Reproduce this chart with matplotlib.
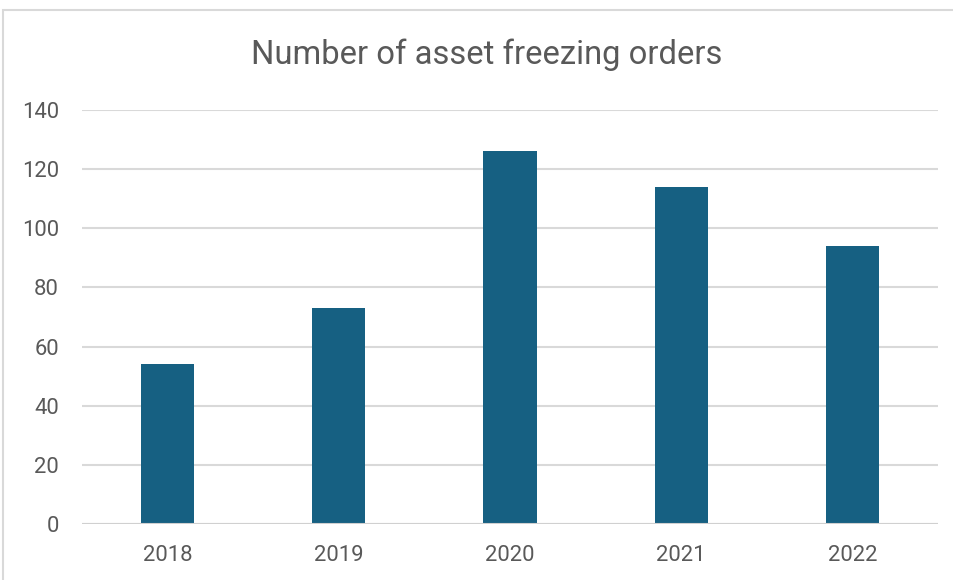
import matplotlib
matplotlib.use("Agg")
import matplotlib.pyplot as plt
from matplotlib.patches import Rectangle

years = ["2018", "2019", "2020", "2021", "2022"]
orders = [54, 73, 126, 114, 94]
y_ticks = [0, 20, 40, 60, 80, 100, 120, 140]

text_color = "#595959"
bar_color = "#166082"
grid_color = "#d9d9d9"

plt.rcParams["font.family"] = ["Roboto", "DejaVu Sans"]

fig = plt.figure(figsize=(9.54, 5.8), dpi=100)
W, H = 954, 580

# outer chart frame (runs off the right and bottom edges)
fig.patches.append(Rectangle((3 / W, -0.1), 1.2, 1 - 10 / H + 0.1,
                             transform=fig.transFigure, fill=False,
                             edgecolor="#d9d9d9", linewidth=1.5))

ax = fig.add_axes([82 / W, 1 - 524 / H, (938 - 82) / W, (524 - 110) / H])
x = range(len(years))
ax.bar(x, orders, width=0.31, color=bar_color, zorder=3)

ax.set_xlim(-0.5, len(years) - 0.5)
ax.set_ylim(0, 140)
ax.set_yticks(y_ticks)
ax.set_xticks(list(x))
ax.set_xticklabels(years)
ax.grid(axis="y", color=grid_color, linewidth=1.5, zorder=0)
ax.axhline(0, color="#d0d0d0", linewidth=1.5, zorder=4)
for side in ["top", "right", "left", "bottom"]:
    ax.spines[side].set_visible(False)
ax.tick_params(length=0, labelsize=15.8, labelcolor=text_color)
ax.tick_params(axis="y", pad=16.5)
ax.tick_params(axis="x", pad=15)

fig.text(487 / W, 1 - 64 / H, "Number of asset freezing orders",
         ha="center", va="baseline", fontsize=23.6, color=text_color)

fig.savefig("out.png", dpi=100)
